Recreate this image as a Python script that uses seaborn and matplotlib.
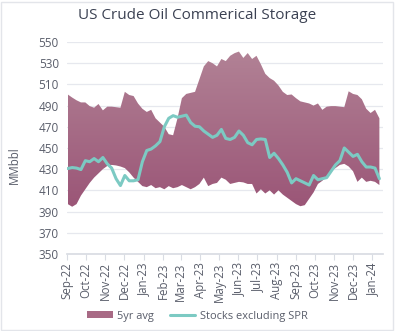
import numpy as np
import pandas as pd
import matplotlib
matplotlib.use("Agg")
import matplotlib.pyplot as plt
import matplotlib.dates as mdates
from matplotlib.patches import Patch, Rectangle
from matplotlib.lines import Line2D
import seaborn as sns

# ---- data (weekly, MMbbl) ----
start_date = "2022-09-02"
upper_5yr = [500.5, 497.6, 495, 493, 493, 489.5, 488, 491.5, 485.5, 489,
             489, 488.5, 488, 503, 500, 499, 492, 487, 484, 486,
             478, 474, 470, 463, 462, 478, 497, 501, 502, 503,
             515, 527, 532, 530, 527, 534, 532, 537, 539.5, 541,
             535, 539.6, 534, 537, 529, 520, 516, 513.5, 509, 503,
             500, 500.5, 497, 494, 493, 492, 490, 492, 486, 489,
             489.5, 489.5, 489, 488.5, 503.5, 501, 500, 496, 487, 483,
             486, 478]
lower_5yr = [397, 394.5, 397, 405, 411, 417, 422, 426, 430, 433,
             434, 433.5, 432.5, 431, 427, 422, 418, 414, 413, 415,
             412, 413, 411, 414, 412, 413, 415, 413, 411, 413,
             416, 422, 414, 416, 417, 422, 420, 416, 417, 418,
             417.5, 416, 416, 407, 411, 407, 410, 406, 410, 406,
             403, 400, 397, 395, 396, 402, 408, 416, 419, 423,
             428, 431, 434, 435, 432.5, 428, 418, 422, 418, 419,
             418, 415]
stocks_ex_spr = [430.6, 431.5, 431, 429.6, 438, 437, 440, 437, 441, 435,
                 431, 421, 414.5, 424, 419, 419, 420, 437, 447.6, 449,
                 452, 456, 470, 478, 480.5, 479, 480, 481, 474, 470.5,
                 470, 466, 463, 460, 462, 467.5, 459, 458, 460, 466,
                 462, 455, 453, 458, 458.5, 458, 441, 445, 440, 434,
                 427, 417, 421, 419, 417, 415, 424, 420, 421, 422,
                 428, 434, 438, 450, 446, 442, 444, 437, 432, 432,
                 431, 421]
y_ticks = [350, 370, 390, 410, 430, 450, 470, 490, 510, 530, 550]

dates = pd.date_range(start_date, periods=len(stocks_ex_spr), freq="7D")
df = pd.DataFrame({"date": dates, "upper": upper_5yr, "lower": lower_5yr,
                   "stocks": stocks_ex_spr})

sns.set_theme(style="white")
plt.rcParams['font.family'] = ['Open Sans', 'DejaVu Sans']

fig = plt.figure(figsize=(3.95, 3.31), dpi=100)
ax = fig.add_axes([0.170, 0.233, 0.800, 0.640])

# gradient-filled band
xnum = mdates.date2num(df["date"])
poly = ax.fill_between(xnum, df["lower"], df["upper"], color="none", lw=0)
cmap = matplotlib.colors.LinearSegmentedColormap.from_list(
    "mauve", ["#9a5476", "#b28396"])
grad = np.linspace(0, 1, 256).reshape(-1, 1)
im = ax.imshow(grad, cmap=cmap, aspect="auto", origin="lower",
               extent=[xnum[0], xnum[-1], 390, 545], zorder=1)
path = poly.get_paths()[0]
im.set_clip_path(path, transform=ax.transData)

sns.lineplot(data=df, x="date", y="stocks", ax=ax, color="#7ccac3",
             lw=2.2, zorder=3, legend=False)

ax.set_ylim(350, 550)
ax.set_yticks(y_ticks)
ax.set_xlim(mdates.date2num(pd.Timestamp("2022-09-01")),
            mdates.date2num(pd.Timestamp("2024-01-18")))
ax.xaxis.set_major_locator(mdates.MonthLocator())
ax.xaxis.set_major_formatter(mdates.DateFormatter("%b-%y"))
plt.setp(ax.get_xticklabels(), rotation=90)

ax.grid(axis="y", color="#e6e8ee", lw=0.9, zorder=0)
ax.set_axisbelow(True)
for s in ["left", "right", "top"]:
    ax.spines[s].set_visible(False)
ax.spines["bottom"].set_color("#d9dce3")
ax.tick_params(axis="x", colors="#d9dce3", length=4, width=0.8,
               labelcolor="#595d6a", labelsize=8.3, pad=2, direction="out",
               bottom=True)
ax.tick_params(axis="y", length=0, labelcolor="#595d6a", labelsize=8.5, pad=6)
ax.set_xlabel("")
ax.set_ylabel("MMbbl", color="#595d6a", fontsize=8.3)
ax.yaxis.set_label_coords(-0.145, 0.42)

fig.suptitle("US Crude Oil Commerical Storage", x=0.50, y=0.975,
             fontsize=11, color="#3b4152")

handles = [Patch(facecolor="#a86a85", edgecolor="none"),
           Line2D([0], [0], color="#7ccac3", lw=2.2)]
fig.legend(handles, ["5yr avg", "Stocks excluding SPR"], loc="center",
           bbox_to_anchor=(0.5, 0.045), ncol=2, frameon=False, fontsize=7.9,
           handlelength=2.3, handleheight=0.6, columnspacing=1.5,
           handletextpad=0.4, labelcolor="#595d6a")

fig.patches.append(Rectangle((0.003, 0.003), 0.992, 0.992,
                             transform=fig.transFigure, fill=False,
                             edgecolor="#e3e5ea", lw=1.0))

fig.savefig("out.png", dpi=100)
